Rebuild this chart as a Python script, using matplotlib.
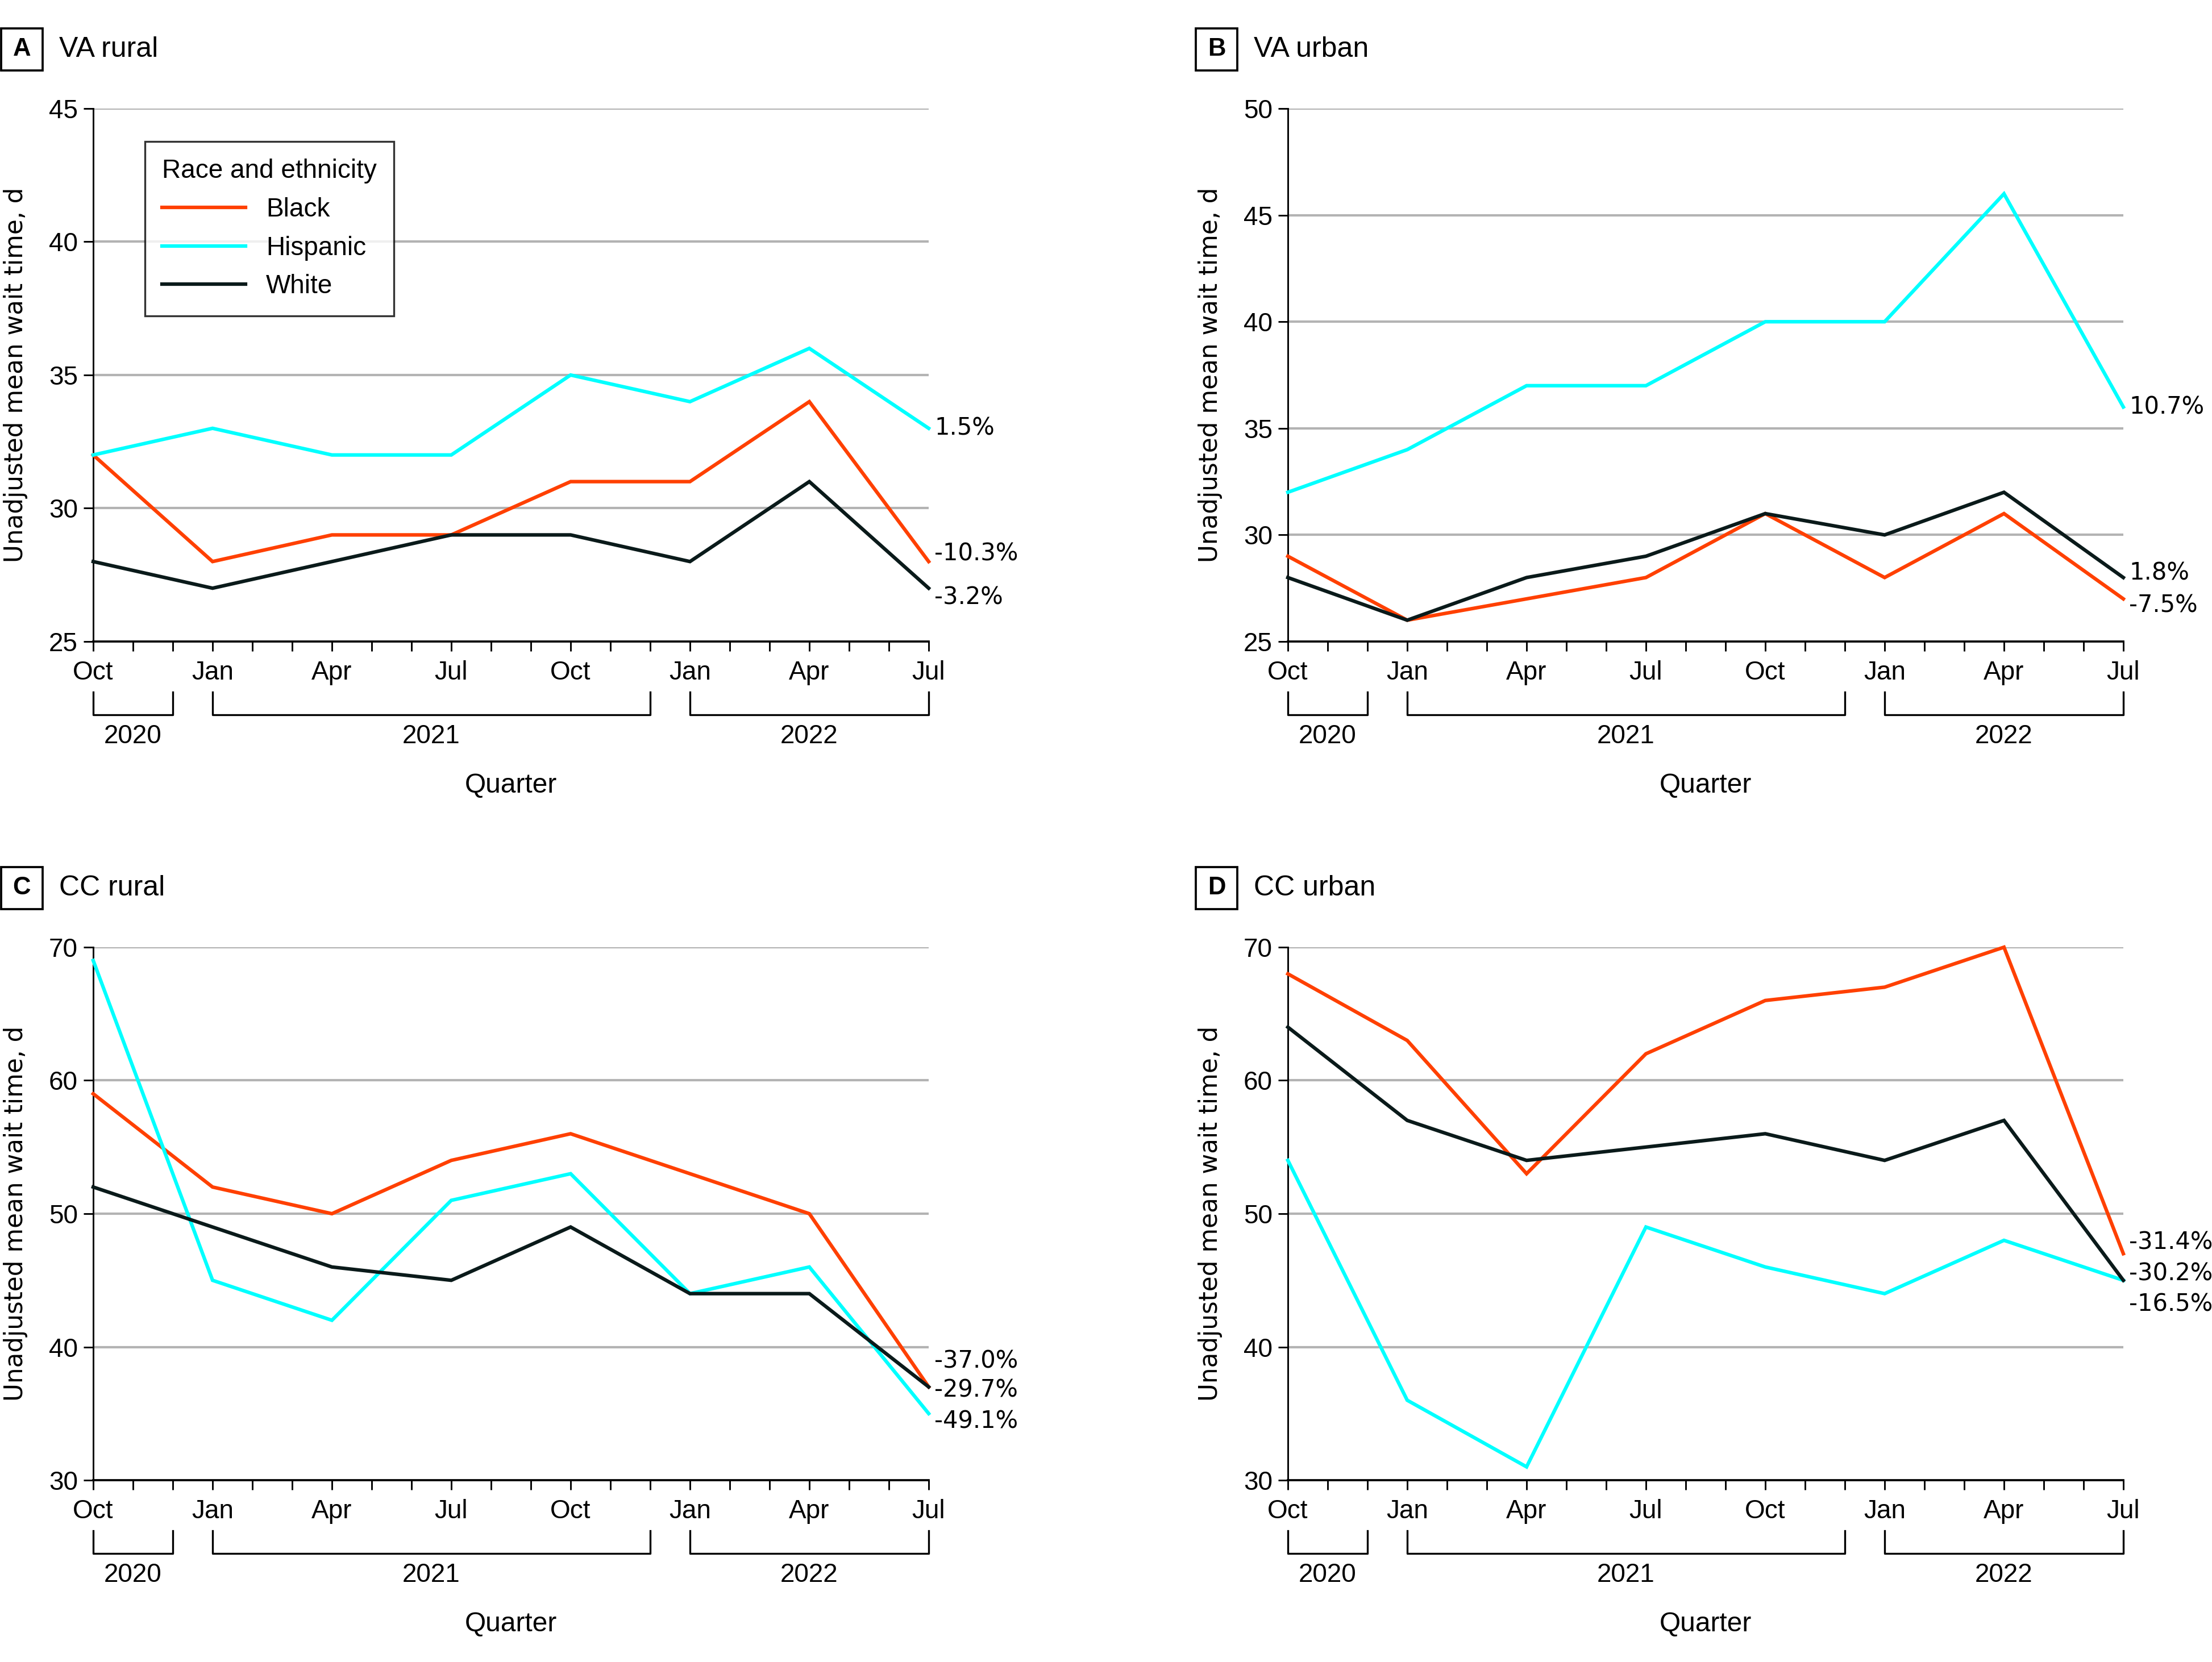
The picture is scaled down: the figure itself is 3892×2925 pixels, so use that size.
import numpy as np
import matplotlib.pyplot as plt
import matplotlib.transforms as mtransforms
from matplotlib.patches import Rectangle

# ---- data ----
quarter_labels = ['Oct', 'Jan', 'Apr', 'Jul', 'Oct', 'Jan', 'Apr', 'Jul']
quarter_months = [0, 3, 6, 9, 12, 15, 18, 21]   # months since Oct 2020
years = ['2020', '2021', '2022']
year_spans = [(0, 2), (3, 14), (15, 21)]
groups = ['Black', 'Hispanic', 'White']

va_rural_black = [32, 28, 29, 29, 31, 31, 34, 28]
va_rural_hispanic = [32, 33, 32, 32, 35, 34, 36, 33]
va_rural_white = [28, 27, 28, 29, 29, 28, 31, 27]
va_rural_change = ['-10.3%', '1.5%', '-3.2%']

va_urban_black = [29, 26, 27, 28, 31, 28, 31, 27]
va_urban_hispanic = [32, 34, 37, 37, 40, 40, 46, 36]
va_urban_white = [28, 26, 28, 29, 31, 30, 32, 28]
va_urban_change = ['-7.5%', '10.7%', '1.8%']

cc_rural_black = [59, 52, 50, 54, 56, 53, 50, 37]
cc_rural_hispanic = [69, 45, 42, 51, 53, 44, 46, 35]
cc_rural_white = [52, 49, 46, 45, 49, 44, 44, 37]
cc_rural_change = ['-37.0%', '-49.1%', '-29.7%']

cc_urban_black = [68, 63, 53, 62, 66, 67, 70, 47]
cc_urban_hispanic = [54, 36, 31, 49, 46, 44, 48, 45]
cc_urban_white = [64, 57, 54, 55, 56, 54, 57, 45]
cc_urban_change = ['-31.4%', '-16.5%', '-30.2%']

panels = [
    ('A', 'VA rural', [va_rural_black, va_rural_hispanic, va_rural_white], va_rural_change, (25, 45), 5),
    ('B', 'VA urban', [va_urban_black, va_urban_hispanic, va_urban_white], va_urban_change, (25, 50), 5),
    ('C', 'CC rural', [cc_rural_black, cc_rural_hispanic, cc_rural_white], cc_rural_change, (30, 70), 10),
    ('D', 'CC urban', [cc_urban_black, cc_urban_hispanic, cc_urban_white], cc_urban_change, (30, 70), 10),
]

# ---- style / layout ----
colors = ['#FF4000', '#00FFFF', '#0A1A1A']
# vertical placement of the end-of-line percentage labels (data units)
label_y = {
    'A': [28.3, 33.0, 26.65],
    'B': [26.7, 36.0, 28.2],
    'C': [38.95, 34.4, 36.75],
    'D': [47.85, 43.2, 45.5],
}
main_font = ['Liberation Sans', 'DejaVu Sans']
W, H = 3892, 2925
axes_px = {'A': (164, 191), 'B': (2266, 191), 'C': (164, 1667), 'D': (2266, 1667)}
ax_w, ax_h = 1470, 938

plt.rcParams['font.family'] = main_font
plt.rcParams['font.size'] = 11

fig = plt.figure(figsize=(W / 300, H / 300), dpi=300)

for letter, title, series, changes, ylim, ystep in panels:
    x0, y0 = axes_px[letter]
    ax = fig.add_axes([x0 / W, 1 - (y0 + ax_h) / H, ax_w / W, ax_h / H])

    yticks = np.arange(ylim[0], ylim[1] + 1, ystep)
    for yv in yticks[1:]:
        ax.axhline(yv, color='#B3B3B3', lw=1.0, zorder=1)

    for vals, col, name in zip(series, colors, groups):
        ax.plot(quarter_months, vals, color=col, lw=1.5, label=name, zorder=3,
                solid_joinstyle='miter', clip_on=False)

    for txt, ly in zip(changes, label_y[letter]):
        ax.annotate(txt, xy=(quarter_months[-1], ly), xytext=(2.5, 0),
                    textcoords='offset points', ha='left', va='center',
                    fontsize=10, family='DejaVu Sans', annotation_clip=False)

    ax.set_xlim(0, 21)
    ax.set_ylim(*ylim)
    ax.set_yticks(yticks)
    ax.set_xticks(quarter_months)
    ax.set_xticklabels(quarter_labels)
    ax.set_xticks(range(0, 22), minor=True)
    ax.tick_params(axis='both', which='both', length=4, width=0.7, color='black',
                   labelsize=11, pad=4)
    ax.tick_params(axis='y', pad=2.5)
    for s in ['top', 'right']:
        ax.spines[s].set_visible(False)
    ax.spines['left'].set_linewidth(0.7)
    ax.spines['bottom'].set_linewidth(0.9)

    ax.text(-0.093, 0.5, 'Unadjusted mean wait time, d', rotation=90,
            ha='center', va='center', transform=ax.transAxes,
            fontsize=10.5, family='DejaVu Sans')

    # year brackets under the quarter labels
    trans = mtransforms.blended_transform_factory(ax.transData, ax.transAxes)
    top_b, bot_b = -0.095, -0.138
    for yr, (s0, s1) in zip(years, year_spans):
        ax.plot([s0, s0, s1, s1], [top_b, bot_b, bot_b, top_b], color='black',
                lw=0.8, transform=trans, clip_on=False)
        ax.text((s0 + s1) / 2, -0.178, yr, ha='center', va='center',
                transform=trans, fontsize=11)
    ax.text(0.5, -0.27, 'Quarter', ha='center', va='center',
            transform=ax.transAxes, fontsize=11.5)

    # panel letter box and title
    bx = x0 - 162
    by = y0 - 141
    fig.patches.append(Rectangle((bx / W, 1 - (by + 74) / H), 73 / W, 74 / H,
                                 transform=fig.transFigure, fill=False,
                                 edgecolor='black', lw=0.9))
    fig.text((bx + 36.5) / W, 1 - (by + 37) / H, letter, ha='center', va='center',
             fontsize=10.5, fontweight='bold')
    fig.text((bx + 102) / W, 1 - (by + 37) / H, title, ha='left', va='center',
             fontsize=12)

    if letter == 'A':
        leg = ax.legend(title='Race and ethnicity', loc='upper left',
                        bbox_to_anchor=(0.062, 0.938), borderaxespad=0,
                        frameon=True, fancybox=False, edgecolor='black',
                        fontsize=11, title_fontsize=11, handlelength=3.2,
                        handletextpad=0.8, labelspacing=0.52, borderpad=0.65,
                        alignment='left')
        leg.get_frame().set_linewidth(0.8)
        leg.set_zorder(5)

fig.savefig('out.png', dpi=300, facecolor='white')
